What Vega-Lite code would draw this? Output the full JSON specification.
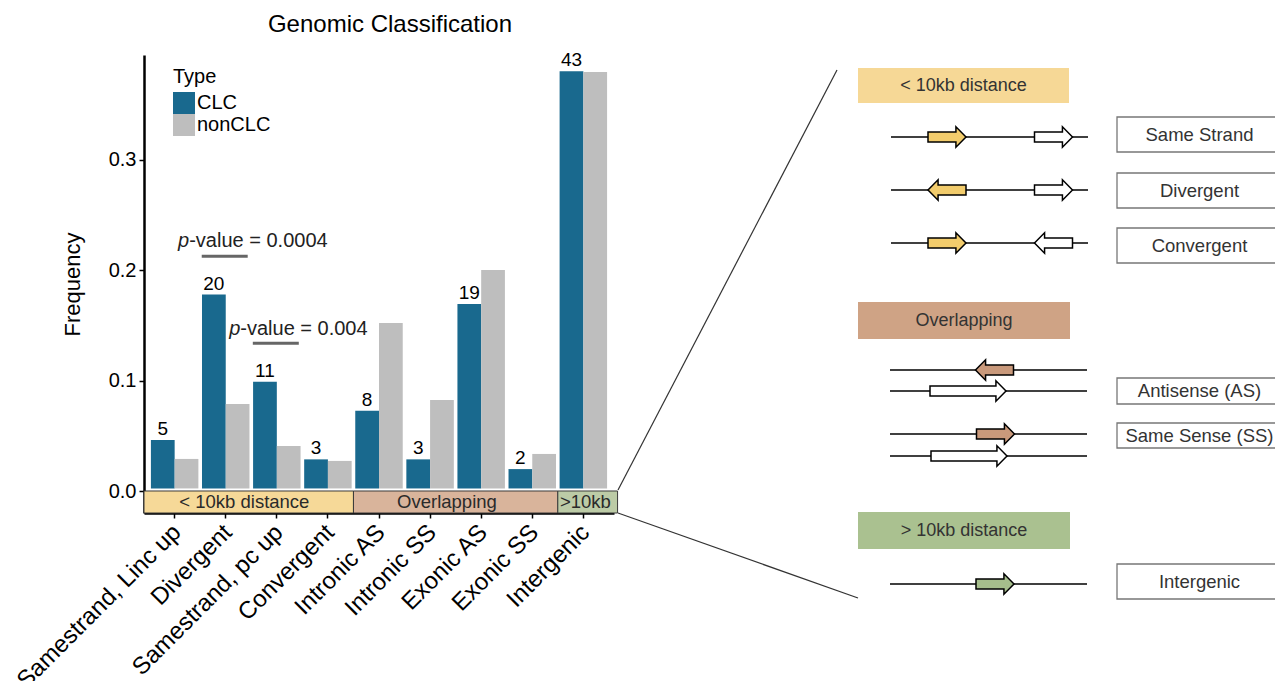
{
  "$schema": "https://vega.github.io/schema/vega-lite/v6.json",
  "width": 470,
  "height": 458,
  "autosize": "none",
  "padding": {"left": 144, "top": 55, "right": 661, "bottom": 168},
  "background": "white",
  "config": {
    "view": {"stroke": null},
    "font": "Liberation Sans",
    "axis": {"grid": false, "labelFont": "Liberation Sans", "titleFont": "Liberation Sans"},
    "legend": {"labelFont": "Liberation Sans", "titleFont": "Liberation Sans"},
    "text": {"font": "Liberation Sans"}
  },
  "title": {
    "text": "Genomic Classification",
    "fontSize": 24,
    "fontWeight": "normal",
    "color": "black",
    "font": "Liberation Sans",
    "anchor": "middle",
    "frame": "group",
    "dx": 11,
    "dy": 23,
    "offset": 18,
    "baseline": "alphabetic"
  },
  "datasets": {
    "freq": [
      {"category": "Samestrand, Linc up", "type": "CLC", "freq": 0.0439, "count": 5},
      {"category": "Divergent", "type": "CLC", "freq": 0.1754, "count": 20},
      {"category": "Samestrand, pc up", "type": "CLC", "freq": 0.0965, "count": 11},
      {"category": "Convergent", "type": "CLC", "freq": 0.0263, "count": 3},
      {"category": "Intronic AS", "type": "CLC", "freq": 0.0702, "count": 8},
      {"category": "Intronic SS", "type": "CLC", "freq": 0.0263, "count": 3},
      {"category": "Exonic AS", "type": "CLC", "freq": 0.1667, "count": 19},
      {"category": "Exonic SS", "type": "CLC", "freq": 0.0175, "count": 2},
      {"category": "Intergenic", "type": "CLC", "freq": 0.3772, "count": 43},
      {"category": "Samestrand, Linc up", "type": "nonCLC", "freq": 0.0267},
      {"category": "Divergent", "type": "nonCLC", "freq": 0.0764},
      {"category": "Samestrand, pc up", "type": "nonCLC", "freq": 0.0384},
      {"category": "Convergent", "type": "nonCLC", "freq": 0.0249},
      {"category": "Intronic AS", "type": "nonCLC", "freq": 0.1496},
      {"category": "Intronic SS", "type": "nonCLC", "freq": 0.0800},
      {"category": "Exonic AS", "type": "nonCLC", "freq": 0.1976},
      {"category": "Exonic SS", "type": "nonCLC", "freq": 0.0312},
      {"category": "Intergenic", "type": "nonCLC", "freq": 0.3766}
    ],
    "groups": [
      {"group": "< 10kb distance", "start": "Samestrand, Linc up", "end": "Convergent", "mid": "Divergent"},
      {"group": "Overlapping", "start": "Intronic AS", "end": "Exonic SS", "mid": "Intronic SS"},
      {"group": ">10kb", "start": "Intergenic", "end": "Intergenic", "mid": "Intergenic"}
    ],
    "pvals": [
      {"cat": "Divergent", "p": "p", "rest": "-value = 0.0004", "bar": 0.210, "label_y": 0.2186},
      {"cat": "Samestrand, pc up", "p": "p", "rest": "-value = 0.004", "bar": 0.1313, "label_y": 0.1388}
    ],
    "links": [
      {"x1": 47.4, "y1": 43.5, "x2": 69.3, "y2": 1.5},
      {"x1": 47.4, "y1": 45.8, "x2": 71.4, "y2": 54.3}
    ],
    "headers": [
      {"label": "< 10kb distance", "x1": 71.4, "x2": 92.5, "y1": 1.3, "y2": 4.8, "cx": 81.95, "cy": 3.05},
      {"label": "Overlapping", "x1": 71.4, "x2": 92.6, "y1": 24.7, "y2": 28.4, "cx": 82.0, "cy": 26.55},
      {"label": "> 10kb distance", "x1": 71.4, "x2": 92.6, "y1": 45.7, "y2": 49.4, "cx": 82.0, "cy": 47.55}
    ],
    "strands": [
      {"row": "Same Strand", "x1": 74.7, "x2": 94.4, "y": 8.2},
      {"row": "Divergent", "x1": 74.7, "x2": 94.4, "y": 13.5},
      {"row": "Convergent", "x1": 74.7, "x2": 94.4, "y": 18.8},
      {"row": "Antisense 1", "x1": 74.6, "x2": 94.3, "y": 31.5},
      {"row": "Antisense 2", "x1": 74.6, "x2": 94.3, "y": 33.6},
      {"row": "Same Sense 1", "x1": 74.6, "x2": 94.3, "y": 37.9},
      {"row": "Same Sense 2", "x1": 74.6, "x2": 94.3, "y": 40.1},
      {"row": "Intergenic", "x1": 74.6, "x2": 94.3, "y": 52.9}
    ],
    "boxes": [
      {"label": "Same Strand", "x1": 97.3, "x2": 113.8, "y1": 6.2, "y2": 9.7, "cx": 105.55, "cy": 7.95},
      {"label": "Divergent", "x1": 97.3, "x2": 113.8, "y1": 11.8, "y2": 15.3, "cx": 105.55, "cy": 13.55},
      {"label": "Convergent", "x1": 97.3, "x2": 113.8, "y1": 17.3, "y2": 20.8, "cx": 105.55, "cy": 19.05},
      {"label": "Antisense (AS)", "x1": 97.3, "x2": 113.8, "y1": 32.3, "y2": 34.9, "cx": 105.55, "cy": 33.6},
      {"label": "Same Sense (SS)", "x1": 97.3, "x2": 113.8, "y1": 36.8, "y2": 39.3, "cx": 105.55, "cy": 38.05},
      {"label": "Intergenic", "x1": 97.3, "x2": 113.8, "y1": 50.9, "y2": 54.4, "cx": 105.55, "cy": 52.65}
    ],
    "genes": [
      {"x": 80.3, "y": 8.2, "dir": "forward", "group": "near"},
      {"x": 90.95, "y": 8.2, "dir": "forward", "group": "partner"},
      {"x": 80.3, "y": 13.5, "dir": "reverse", "group": "near"},
      {"x": 90.95, "y": 13.5, "dir": "forward", "group": "partner"},
      {"x": 80.3, "y": 18.8, "dir": "forward", "group": "near"},
      {"x": 90.95, "y": 18.8, "dir": "reverse", "group": "partner"},
      {"x": 85.05, "y": 31.5, "dir": "reverse", "group": "overlap"},
      {"x": 82.4, "y": 33.6, "dir": "forward long", "group": "partner"},
      {"x": 85.15, "y": 37.9, "dir": "forward", "group": "overlap"},
      {"x": 82.5, "y": 40.1, "dir": "forward long", "group": "partner"},
      {"x": 85.1, "y": 52.9, "dir": "forward", "group": "far"}
    ]
  },
  "layer": [
    {
      "layer": [
        {
          "data": {"name": "freq"},
          "mark": {"type": "bar"},
          "encoding": {
            "x": {
              "field": "category", "type": "nominal",
              "scale": {"domain": ["Samestrand, Linc up", "Divergent", "Samestrand, pc up", "Convergent", "Intronic AS", "Intronic SS", "Exonic AS", "Exonic SS", "Intergenic"], "paddingInner": 0, "paddingOuter": 0.1},
              "axis": {"title": null, "labelAngle": -45, "labelFontSize": 24, "labelColor": "black", "tickColor": "black", "tickSize": 5, "tickWidth": 1.5, "domainColor": "black", "domainWidth": 2.5, "labelPadding": 2, "labelOffset": -6, "labelLimit": 400}
            },
            "xOffset": {"field": "type", "type": "nominal", "scale": {"domain": ["CLC", "nonCLC"], "paddingInner": 0, "paddingOuter": 0.076}},
            "y": {
              "field": "freq", "type": "quantitative", "title": "Frequency",
              "scale": {"domain": [-0.0222, 0.392], "nice": false, "zero": false},
              "axis": {"title": "Frequency", "values": [0, 0.1, 0.2, 0.3], "format": ".1f", "labelFontSize": 20, "labelColor": "black", "tickColor": "black", "tickSize": 5, "tickWidth": 1.5, "tickOffset": 3, "domainColor": "black", "domainWidth": 2.5, "titleFontSize": 22, "titleFontWeight": "normal", "titleColor": "black", "titlePadding": 24, "labelPadding": 3}
            },
            "color": {
              "field": "type", "type": "nominal",
              "scale": {"domain": ["CLC", "nonCLC"], "range": ["#19698E", "#BEBEBE"]},
              "legend": {"title": "Type", "orient": "none", "legendX": 29, "legendY": 12, "titleFontSize": 20, "titleFontWeight": "normal", "titleColor": "black", "labelFontSize": 20, "labelColor": "black", "symbolType": "square", "symbolSize": 484, "symbolStrokeWidth": 0, "rowPadding": 0, "labelOffset": 2, "titlePadding": 5, "padding": 0}
            }
          }
        },
        {
          "data": {"name": "freq"},
          "transform": [{"filter": "isValid(datum.count)"}],
          "mark": {"type": "text", "fontSize": 19, "color": "black", "baseline": "alphabetic", "dy": -5},
          "encoding": {
            "x": {"field": "category", "type": "nominal", "title": null},
            "xOffset": {"field": "type", "type": "nominal", "scale": {"domain": ["CLC", "nonCLC"], "paddingInner": 0, "paddingOuter": 0.076}},
            "y": {"field": "freq", "type": "quantitative"},
            "text": {"field": "count", "type": "quantitative"}
          }
        },
        {
          "data": {"name": "groups"},
          "transform": [{"filter": "datum.group === '< 10kb distance'"}],
          "layer": [
            {
              "mark": {"type": "rect", "fill": "#F6D998", "stroke": "#3a3a3a", "strokeWidth": 1},
              "encoding": {
                "x": {"field": "start", "type": "nominal", "bandPosition": -0.1, "title": null},
                "x2": {"field": "end", "bandPosition": 1},
                "y": {"datum": -0.0222, "type": "quantitative"},
                "y2": {"datum": -0.0023}
              }
            },
            {
              "mark": {"type": "text", "fontSize": 18.5, "color": "#2a2a2a", "baseline": "middle", "align": "center"},
              "encoding": {
                "x": {"field": "mid", "type": "nominal", "bandPosition": 0.864, "title": null},
                "y": {"datum": -0.0125, "type": "quantitative"},
                "text": {"field": "group"}
              }
            }
          ]
        },
        {
          "data": {"name": "groups"},
          "transform": [{"filter": "datum.group === 'Overlapping'"}],
          "layer": [
            {
              "mark": {"type": "rect", "fill": "#D9B49B", "stroke": "#3a3a3a", "strokeWidth": 1},
              "encoding": {
                "x": {"field": "start", "type": "nominal", "bandPosition": 0, "title": null},
                "x2": {"field": "end", "bandPosition": 1},
                "y": {"datum": -0.0222, "type": "quantitative"},
                "y2": {"datum": -0.0023}
              }
            },
            {
              "mark": {"type": "text", "fontSize": 18.5, "color": "#2a2a2a", "baseline": "middle", "align": "center"},
              "encoding": {
                "x": {"field": "mid", "type": "nominal", "bandPosition": 0.83, "title": null},
                "y": {"datum": -0.0125, "type": "quantitative"},
                "text": {"field": "group"}
              }
            }
          ]
        },
        {
          "data": {"name": "groups"},
          "transform": [{"filter": "datum.group === '>10kb'"}],
          "layer": [
            {
              "mark": {"type": "rect", "fill": "#BCCBA6", "stroke": "#3a3a3a", "strokeWidth": 1},
              "encoding": {
                "x": {"field": "start", "type": "nominal", "bandPosition": 0, "title": null},
                "x2": {"field": "end", "bandPosition": 1.17},
                "y": {"datum": -0.0222, "type": "quantitative"},
                "y2": {"datum": -0.0023}
              }
            },
            {
              "mark": {"type": "text", "fontSize": 18.5, "color": "#2a2a2a", "baseline": "middle", "align": "center"},
              "encoding": {
                "x": {"field": "mid", "type": "nominal", "bandPosition": 0.54, "title": null},
                "y": {"datum": -0.0125, "type": "quantitative"},
                "text": {"field": "group"}
              }
            }
          ]
        },
        {
          "data": {"name": "pvals"},
          "mark": {"type": "rule", "color": "#666666", "strokeWidth": 3},
          "encoding": {
            "x": {"field": "cat", "type": "nominal", "bandPosition": 0.03, "title": null},
            "x2": {"field": "cat", "bandPosition": 0.93},
            "y": {"field": "bar", "type": "quantitative"}
          }
        },
        {
          "data": {"name": "pvals"},
          "mark": {"type": "text", "fontSize": 20, "color": "#222222", "fontStyle": "italic", "align": "right", "baseline": "alphabetic", "dx": -11},
          "encoding": {
            "x": {"field": "cat", "type": "nominal", "bandPosition": 0, "title": null},
            "y": {"field": "label_y", "type": "quantitative"},
            "text": {"field": "p"}
          }
        },
        {
          "data": {"name": "pvals"},
          "mark": {"type": "text", "fontSize": 20, "color": "#222222", "align": "left", "baseline": "alphabetic", "dx": -11},
          "encoding": {
            "x": {"field": "cat", "type": "nominal", "bandPosition": 0, "title": null},
            "y": {"field": "label_y", "type": "quantitative"},
            "text": {"field": "rest"}
          }
        }
      ]
    },
    {
      "layer": [
        {
          "data": {"name": "links"},
          "mark": {"type": "rule", "color": "#333333", "strokeWidth": 1.2},
          "encoding": {
            "x": {"field": "x1", "type": "quantitative", "scale": {"domain": [0, 47], "nice": false, "zero": false}, "axis": null},
            "y": {"field": "y1", "type": "quantitative", "scale": {"domain": [0, 45.8], "nice": false, "zero": false, "reverse": true}, "axis": null},
            "x2": {"field": "x2"},
            "y2": {"field": "y2"}
          }
        },
        {
          "data": {"name": "headers"},
          "mark": {"type": "rect"},
          "encoding": {
            "x": {"field": "x1", "type": "quantitative", "scale": {"domain": [0, 47], "nice": false, "zero": false}, "axis": null},
            "x2": {"field": "x2"},
            "y": {"field": "y1", "type": "quantitative", "scale": {"domain": [0, 45.8], "nice": false, "zero": false, "reverse": true}, "axis": null},
            "y2": {"field": "y2"},
            "fill": {"field": "label", "type": "nominal", "scale": {"domain": ["< 10kb distance", "Overlapping", "> 10kb distance", "near", "overlap", "far", "partner"], "range": ["#F6D896", "#CFA385", "#AAC190", "#F2CC6C", "#C9997B", "#A6BE8C", "#FFFFFF"]}, "legend": null}
          }
        },
        {
          "data": {"name": "headers"},
          "mark": {"type": "text", "fontSize": 18, "color": "#333333", "align": "center", "baseline": "middle"},
          "encoding": {
            "x": {"field": "cx", "type": "quantitative", "scale": {"domain": [0, 47], "nice": false, "zero": false}, "axis": null},
            "y": {"field": "cy", "type": "quantitative", "scale": {"domain": [0, 45.8], "nice": false, "zero": false, "reverse": true}, "axis": null},
            "text": {"field": "label"}
          }
        },
        {
          "data": {"name": "strands"},
          "mark": {"type": "rule", "color": "black", "strokeWidth": 1.3},
          "encoding": {
            "x": {"field": "x1", "type": "quantitative", "scale": {"domain": [0, 47], "nice": false, "zero": false}, "axis": null},
            "x2": {"field": "x2"},
            "y": {"field": "y", "type": "quantitative", "scale": {"domain": [0, 45.8], "nice": false, "zero": false, "reverse": true}, "axis": null}
          }
        },
        {
          "data": {"name": "boxes"},
          "mark": {"type": "rect", "fill": "white", "stroke": "#777777", "strokeWidth": 1.3},
          "encoding": {
            "x": {"field": "x1", "type": "quantitative", "scale": {"domain": [0, 47], "nice": false, "zero": false}, "axis": null},
            "x2": {"field": "x2"},
            "y": {"field": "y1", "type": "quantitative", "scale": {"domain": [0, 45.8], "nice": false, "zero": false, "reverse": true}, "axis": null},
            "y2": {"field": "y2"}
          }
        },
        {
          "data": {"name": "boxes"},
          "mark": {"type": "text", "fontSize": 18.5, "color": "#333333", "align": "center", "baseline": "middle"},
          "encoding": {
            "x": {"field": "cx", "type": "quantitative", "scale": {"domain": [0, 47], "nice": false, "zero": false}, "axis": null},
            "y": {"field": "cy", "type": "quantitative", "scale": {"domain": [0, 45.8], "nice": false, "zero": false, "reverse": true}, "axis": null},
            "text": {"field": "label"}
          }
        },
        {
          "data": {"name": "genes"},
          "mark": {"type": "point", "filled": true, "opacity": 1, "size": 1444, "stroke": "black", "strokeWidth": 1.5},
          "encoding": {
            "x": {"field": "x", "type": "quantitative", "scale": {"domain": [0, 47], "nice": false, "zero": false}, "axis": null},
            "y": {"field": "y", "type": "quantitative", "scale": {"domain": [0, 45.8], "nice": false, "zero": false, "reverse": true}, "axis": null},
            "fill": {"field": "group", "type": "nominal", "scale": {"domain": ["< 10kb distance", "Overlapping", "> 10kb distance", "near", "overlap", "far", "partner"], "range": ["#F6D896", "#CFA385", "#AAC190", "#F2CC6C", "#C9997B", "#A6BE8C", "#FFFFFF"]}, "legend": null},
            "shape": {"field": "dir", "type": "nominal", "scale": {"domain": ["forward", "reverse", "forward long"], "range": ["M-1,-0.26L0.47,-0.26L0.47,-0.54L1,0L0.47,0.54L0.47,0.26L-1,0.26Z", "M1,-0.26L-0.47,-0.26L-0.47,-0.54L-1,0L-0.47,0.54L-0.47,0.26L1,0.26Z", "M-2,-0.26L1.47,-0.26L1.47,-0.54L2,0L1.47,0.54L1.47,0.26L-2,0.26Z"]}, "legend": null}
          }
        }
      ]
    }
  ],
  "resolve": {
    "scale": {"x": "independent", "y": "independent"},
    "axis": {"x": "independent", "y": "independent"}
  }
}
